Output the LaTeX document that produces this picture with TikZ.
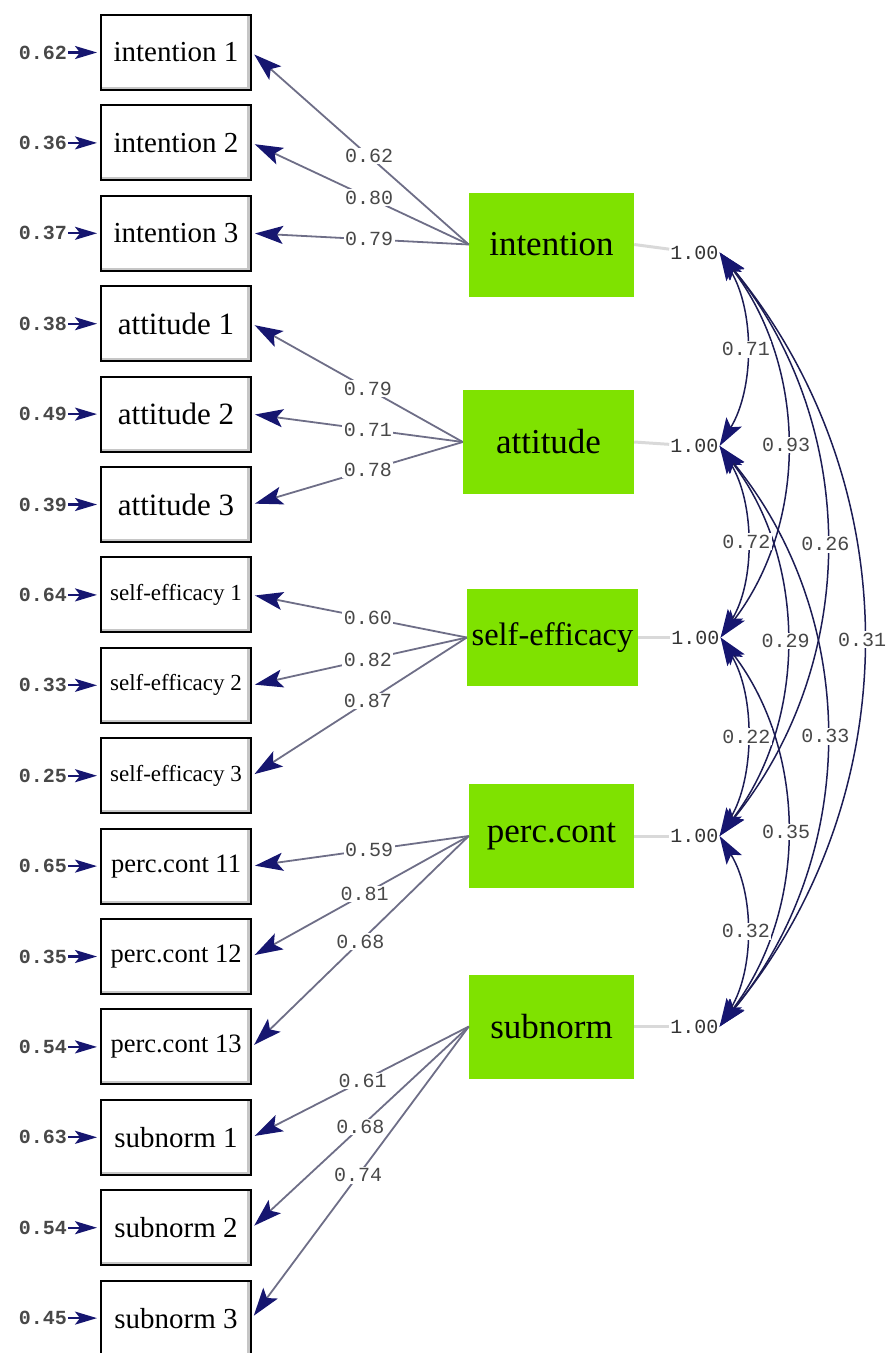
\documentclass[tikz,border=0pt]{standalone}
\usepackage{fontspec}
\setmainfont{Liberation Serif}
\setmonofont{Liberation Mono}
\usetikzlibrary{arrows.meta, positioning}
\definecolor{latgreen}{RGB}{127, 226, 0}
\definecolor{navyhead}{RGB}{22, 22, 112}
\definecolor{loadgray}{RGB}{110, 110, 135}
\definecolor{corrnavy}{RGB}{28, 28, 84}
\definecolor{numgray}{RGB}{72, 72, 72}
\tikzset{
    tipnavy/.tip={Stealth[length=28pt, width=18pt, inset=6pt, color=navyhead]},
    tipsmall/.tip={Stealth[length=22pt, width=13pt, inset=5pt, color=navyhead]}
}

\begin{document}
\begin{tikzpicture}[
    x=1pt, y=-1pt,
    node distance=13.4pt,
    ind/.style={rectangle, draw=black, line width=2pt, fill=white, minimum width=150pt, minimum height=75pt, inner sep=1pt, text centered, font=\fontsize{29}{32}\selectfont,
        path picture={\draw[gray!45, line width=3pt] ([xshift=-2.5pt]path picture bounding box.north east) -- ([xshift=-2.5pt]path picture bounding box.south east);
                      \draw[gray!45, line width=2pt] ([yshift=2pt]path picture bounding box.south west) -- ([yshift=2pt]path picture bounding box.south east);}},
    lat/.style={rectangle, fill=latgreen, minimum width=165pt, minimum height=104pt, inner sep=0pt, text centered, font=\fontsize{35}{38}\selectfont},
    err/.style={inner sep=1pt, text=numgray, font=\fontsize{20}{22}\selectfont\ttfamily\bfseries},
    lbl/.style={fill=white, inner sep=1.5pt, text=numgray, font=\fontsize{20}{22}\selectfont\ttfamily},
    var/.style={inner sep=1pt, text=black!80, font=\fontsize{20}{22}\selectfont\ttfamily},
    errarrow/.style={-tipsmall, draw=navyhead, line width=2.2pt, shorten >=3pt},
    load/.style={-tipnavy, draw=loadgray, line width=1.8pt, shorten >=3pt},
    varline/.style={draw=gray!30, line width=3pt},
    corr/.style={tipnavy-tipnavy, draw=corrnavy, line width=1.5pt}
]
\clip (0,0) rectangle (887,1353);

% indicators
\node[ind] (int1) at (176, 52.5) {intention 1};
\node[ind, below=of int1] (int2) {intention 2};
\node[ind, below=of int2] (int3) {intention 3};
\node[ind, below=of int3, font=\fontsize{31}{34}\selectfont] (att1) {attitude 1};
\node[ind, below=of att1, font=\fontsize{31}{34}\selectfont] (att2) {attitude 2};
\node[ind, below=of att2, font=\fontsize{31}{34}\selectfont] (att3) {attitude 3};
\node[ind, below=of att3, font=\fontsize{23}{26}\selectfont] (self1) {self-efficacy 1};
\node[ind, below=of self1, font=\fontsize{23}{26}\selectfont] (self2) {self-efficacy 2};
\node[ind, below=of self2, font=\fontsize{23}{26}\selectfont] (self3) {self-efficacy 3};
\node[ind, below=of self3, font=\fontsize{26.5}{29}\selectfont] (pc1) {perc.cont 11};
\node[ind, below=of pc1, font=\fontsize{26.5}{29}\selectfont] (pc2) {perc.cont 12};
\node[ind, below=of pc2, font=\fontsize{26.5}{29}\selectfont] (pc3) {perc.cont 13};
\node[ind, below=of pc3] (sub1) {subnorm 1};
\node[ind, below=of sub1] (sub2) {subnorm 2};
\node[ind, below=of sub2] (sub3) {subnorm 3};

% error variances
\node[err, left=32pt of int1] (eint1) {0.62};
\node[err, left=32pt of int2] (eint2) {0.36};
\node[err, left=32pt of int3] (eint3) {0.37};
\node[err, left=32pt of att1] (eatt1) {0.38};
\node[err, left=32pt of att2] (eatt2) {0.49};
\node[err, left=32pt of att3] (eatt3) {0.39};
\node[err, left=32pt of self1] (eself1) {0.64};
\node[err, left=32pt of self2] (eself2) {0.33};
\node[err, left=32pt of self3] (eself3) {0.25};
\node[err, left=32pt of pc1] (epc1) {0.65};
\node[err, left=32pt of pc2] (epc2) {0.35};
\node[err, left=32pt of pc3] (epc3) {0.54};
\node[err, left=32pt of sub1] (esub1) {0.63};
\node[err, left=32pt of sub2] (esub2) {0.54};
\node[err, left=32pt of sub3] (esub3) {0.45};

\draw[errarrow] (eint1) -- (int1);
\draw[errarrow] (eint2) -- (int2);
\draw[errarrow] (eint3) -- (int3);
\draw[errarrow] (eatt1) -- (att1);
\draw[errarrow] (eatt2) -- (att2);
\draw[errarrow] (eatt3) -- (att3);
\draw[errarrow] (eself1) -- (self1);
\draw[errarrow] (eself2) -- (self2);
\draw[errarrow] (eself3) -- (self3);
\draw[errarrow] (epc1) -- (pc1);
\draw[errarrow] (epc2) -- (pc2);
\draw[errarrow] (epc3) -- (pc3);
\draw[errarrow] (esub1) -- (sub1);
\draw[errarrow] (esub2) -- (sub2);
\draw[errarrow] (esub3) -- (sub3);

% latent variables
\node[lat] (intention) at (551.5, 244.5) {intention};
\node[lat, minimum width=171pt] (attitude) at (548.5, 442) {attitude};
\node[lat, minimum width=171pt, minimum height=97pt, font=\fontsize{32.5}{35}\selectfont] (selfeff) at (552.5, 637.5) {self-efficacy};
\node[lat] (perccont) at (551.5, 836) {perc.cont};
\node[lat] (subnorm) at (551.5, 1026.5) {subnorm};

% loadings
\draw[load] (intention.west) -- node[lbl, pos=0.46] {0.62} (int1.east);
\draw[load] (intention.west) -- node[lbl, pos=0.46] {0.80} (int2.east);
\draw[load] (intention.west) -- node[lbl, pos=0.46] {0.79} (int3.east);
\draw[load] (attitude.west) -- node[lbl, pos=0.45] {0.79} (att1.east);
\draw[load] (attitude.west) -- node[lbl, pos=0.45] {0.71} (att2.east);
\draw[load] (attitude.west) -- node[lbl, pos=0.45] {0.78} (att3.east);
\draw[load] (selfeff.west) -- node[lbl, pos=0.46] {0.60} (self1.east);
\draw[load] (selfeff.west) -- node[lbl, pos=0.46] {0.82} (self2.east);
\draw[load] (selfeff.west) -- node[lbl, pos=0.46] {0.87} (self3.east);
\draw[load] (perccont.west) -- node[lbl, pos=0.46] {0.59} (pc1.east);
\draw[load] (perccont.west) -- node[lbl, pos=0.48] {0.81} (pc2.east);
\draw[load] (perccont.west) -- node[lbl, pos=0.50] {0.68} (pc3.east);
\draw[load] (subnorm.west) -- node[lbl, pos=0.49] {0.61} (sub1.east);
\draw[load] (subnorm.west) -- node[lbl, pos=0.50] {0.68} (sub2.east);
\draw[load] (subnorm.west) -- node[lbl, pos=0.51] {0.74} (sub3.east);

% variances of the latents
\node[var, right=35pt of intention, yshift=-8pt] (vint) {1.00};
\node[var, right=35pt of attitude, yshift=-4pt] (vatt) {1.00};
\node[var, right=32pt of selfeff] (vself) {1.00};
\node[var, right=35pt of perccont] (vpc) {1.00};
\node[var, right=35pt of subnorm] (vsub) {1.00};
\draw[varline] (intention.east) -- (vint);
\draw[varline] (attitude.east) -- (vatt);
\draw[varline] (selfeff.east) -- (vself);
\draw[varline] (perccont.east) -- (vpc);
\draw[varline] (subnorm.east) -- (vsub);

% correlations
\draw[corr] (vint.east) .. controls +(35,58) and +(35,-58) .. coordinate (c12) (vatt.east);
\draw[corr] (vint.east) .. controls +(88,115) and +(88,-115) .. coordinate (c13) (vself.east);
\draw[corr] (vint.east) .. controls +(141,174) and +(141,-174) .. coordinate (c14) (vpc.east);
\draw[corr] (vint.east) .. controls +(190,231) and +(190,-231) .. coordinate (c15) (vsub.east);
\draw[corr] (vatt.east) .. controls +(35,56) and +(35,-56) .. coordinate (c23) (vself.east);
\draw[corr] (vatt.east) .. controls +(88,115) and +(88,-115) .. coordinate (c24) (vpc.east);
\draw[corr] (vatt.east) .. controls +(141,172) and +(141,-172) .. coordinate (c25) (vsub.east);
\draw[corr] (vself.east) .. controls +(35,58) and +(35,-58) .. coordinate (c34) (vpc.east);
\draw[corr] (vself.east) .. controls +(88,116) and +(88,-116) .. coordinate (c35) (vsub.east);
\draw[corr] (vpc.east) .. controls +(35,57) and +(35,-57) .. coordinate (c45) (vsub.east);

\node[lbl] at (c12) {0.71};
\node[lbl] at (c13) {0.93};
\node[lbl] at (c14) {0.26};
\node[lbl] at (c15) {0.31};
\node[lbl] at (c23) {0.72};
\node[lbl] at (c24) {0.29};
\node[lbl] at (c25) {0.33};
\node[lbl] at (c34) {0.22};
\node[lbl] at (c35) {0.35};
\node[lbl] at (c45) {0.32};

\end{tikzpicture}
\end{document}
